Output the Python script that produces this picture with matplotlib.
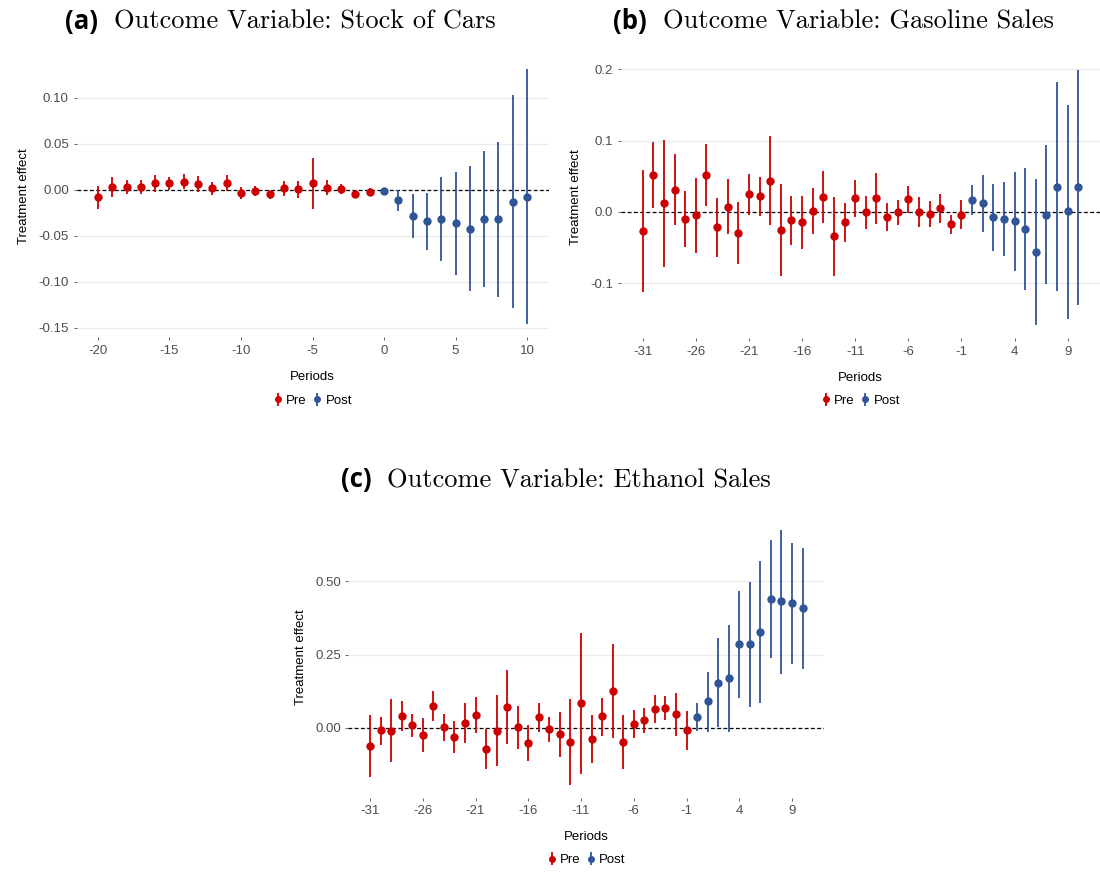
import matplotlib
matplotlib.use('Agg')
import matplotlib.pyplot as plt
import numpy as np

plt.rcParams['font.family'] = ['Liberation Sans', 'DejaVu Sans']
plt.rcParams['axes.unicode_minus'] = False

RED = '#CC0000'
BLUE = '#2F5597'

# Panel (a): stock of cars, periods -20..10
per_a = list(range(-20, 11))
est_a = [-0.008, 0.003, 0.003, 0.003, 0.007, 0.007, 0.009, 0.0065, 0.0015, 0.0076,
         -0.0033, -0.0018, -0.0047, 0.0015, 0.0004, 0.0072, 0.0025, 0.0004, -0.0047, -0.0022,
         -0.0014, -0.0112, -0.0286, -0.034, -0.0319, -0.0362, -0.0424, -0.0315, -0.0322, -0.013, -0.0076]
lo_a = [-0.021, -0.0076, -0.005, -0.004, -0.002, 0.000, 0.0004, -0.0025, -0.006, -0.001,
        -0.010, -0.007, -0.0098, -0.007, -0.0094, -0.0207, -0.0058, -0.005, -0.008, -0.006,
        -0.0058, -0.0225, -0.052, -0.0656, -0.0772, -0.092, -0.110, -0.1058, -0.1167, -0.128, -0.146]
hi_a = [0.004, 0.0138, 0.011, 0.0105, 0.0156, 0.014, 0.017, 0.0145, 0.009, 0.016,
        0.003, 0.004, -0.001, 0.010, 0.0094, 0.035, 0.011, 0.0058, -0.0015, 0.0022,
        0.0018, 0.0, -0.005, -0.003, 0.0138, 0.0192, 0.0254, 0.042, 0.052, 0.1025, 0.1315]

# Panel (b): gasoline sales, periods -31..10
per_b = list(range(-31, 11))
est_b = [-0.0271, 0.0519, 0.0126, 0.0313, -0.0103, -0.0047, 0.0519, -0.0215, 0.0075, -0.030,
         0.0252, 0.022, 0.0439, -0.0248, -0.0117, -0.014, 0.0019, 0.021, -0.0341, -0.0145,
         0.0189, -0.0005, 0.0192, -0.0075, -0.0005, 0.0178, 0.0005, -0.0023, 0.0051, -0.0168,
         -0.0037, 0.0168, 0.0121, -0.0075, -0.0103, -0.0131, -0.0234, -0.056, -0.0037, 0.0355,
         0.0009, 0.0346]
lo_b = [-0.112, 0.0056, -0.077, -0.0187, -0.0495, -0.057, 0.0084, -0.0626, -0.0313, -0.0734,
        -0.0037, -0.0056, -0.0187, -0.0897, -0.0463, -0.0514, -0.0308, -0.0154, -0.0897, -0.0416,
        -0.007, -0.024, -0.0164, -0.027, -0.019, -0.001, -0.0215, -0.0206, -0.015, -0.0304,
        -0.0238, -0.0047, -0.028, -0.0547, -0.0621, -0.0827, -0.110, -0.159, -0.101, -0.111,
        -0.150, -0.131]
hi_b = [0.0584, 0.0977, 0.1014, 0.0808, 0.029, 0.0477, 0.095, 0.0192, 0.0458, 0.0136,
        0.0537, 0.0486, 0.106, 0.0397, 0.0229, 0.0229, 0.034, 0.057, 0.0206, 0.0121,
        0.0444, 0.022, 0.0547, 0.0121, 0.0173, 0.036, 0.0206, 0.0159, 0.0248, -0.0042,
        0.0164, 0.0374, 0.0514, 0.0397, 0.0416, 0.0565, 0.0621, 0.0467, 0.0935, 0.182,
        0.150, 0.1995]

# Panel (c): ethanol sales, periods -31..10
per_c = list(range(-31, 11))
est_c = [-0.0625, -0.009, -0.010, 0.041, 0.009, -0.024, 0.074, 0.002, -0.033, 0.017,
         0.044, -0.073, -0.010, 0.070, 0.002, -0.052, 0.036, -0.006, -0.023, -0.049,
         0.084, -0.0375, 0.0386, 0.127, -0.049, 0.0136, 0.025, 0.0636, 0.066, 0.0466,
         -0.009, 0.0375, 0.090, 0.152, 0.169, 0.285, 0.285, 0.328, 0.440, 0.432,
         0.426, 0.408]
lo_c = [-0.167, -0.058, -0.117, -0.010, -0.031, -0.082, 0.0216, -0.044, -0.0875, -0.052,
        -0.017, -0.142, -0.131, -0.0545, -0.0716, -0.1125, -0.0148, -0.048, -0.099, -0.195,
        -0.158, -0.12, -0.027, -0.036, -0.14, -0.035, -0.019, 0.0148, 0.026, -0.028,
        -0.076, -0.010, -0.0136, 0.001, -0.016, 0.102, 0.0716, 0.085, 0.2375, 0.185,
        0.219, 0.202]
hi_c = [0.042, 0.0375, 0.098, 0.092, 0.048, 0.034, 0.124, 0.048, 0.0227, 0.086,
        0.1045, -0.0034, 0.110, 0.197, 0.075, 0.008, 0.086, 0.0375, 0.052, 0.098,
        0.325, 0.045, 0.101, 0.2875, 0.043, 0.060, 0.067, 0.111, 0.107, 0.119,
        0.057, 0.084, 0.190, 0.305, 0.352, 0.468, 0.497, 0.570, 0.640, 0.677,
        0.632, 0.6125]

xticks_a = [-20, -15, -10, -5, 0, 5, 10]
yticks_a = [-0.15, -0.10, -0.05, 0.00, 0.05, 0.10]
xticks_bc = [-31, -26, -21, -16, -11, -6, -1, 4, 9]
yticks_b = [-0.1, 0.0, 0.1, 0.2]
yticks_c = [0.00, 0.25, 0.50]

W, H = 1100, 873
fig = plt.figure(figsize=(11, 8.73), dpi=100)


def px_box(x0, y0, x1, y1):
    return [x0 / W, 1 - y1 / H, (x1 - x0) / W, (y1 - y0) / H]


def event_plot(ax, per, est, lo, hi, xticks, yticks, yfmt):
    per = np.array(per)
    est = np.array(est)
    lo = np.array(lo)
    hi = np.array(hi)
    ax.axhline(0, color='black', ls=(0, (3, 2)), lw=0.9, zorder=1)
    for mask, col, lab in [(per < 0, RED, 'Pre'), (per >= 0, BLUE, 'Post')]:
        ax.errorbar(per[mask], est[mask], yerr=[est[mask] - lo[mask], hi[mask] - est[mask]],
                    fmt='o', color=col, ms=5, elinewidth=1.3, capsize=0, label=lab, zorder=3)
    ax.set_xticks(xticks)
    ax.set_yticks(yticks)
    ax.set_yticklabels([yfmt.format(v) for v in yticks])
    ax.grid(axis='y', color='#EBEBEB', lw=0.9)
    ax.set_axisbelow(True)
    for s in ax.spines.values():
        s.set_visible(False)
    ax.tick_params(colors='#4D4D4D', labelsize=9.5, length=2.5, width=0.6, pad=3)
    ax.set_xlabel('Periods', fontsize=9.5, labelpad=10)
    ax.set_ylabel('Treatment effect', fontsize=9.5, labelpad=6)


def legend_below(ax, ycen):
    box = ax.get_position()
    ax.legend(loc='center', bbox_to_anchor=(box.x0 + box.width / 2, 1 - ycen / H),
              bbox_transform=fig.transFigure, ncol=2, frameon=False, fontsize=9.5,
              handlelength=0.7, handletextpad=0.3, columnspacing=0.4, borderpad=0,
              markerscale=0.8)


def title(xlab, xtext, ybase, tag, text):
    fig.text(xlab / W, 1 - ybase / H, tag, fontsize=18.5, fontweight='bold',
             family='Open Sans', va='baseline', ha='left')
    fig.text(xtext / W, 1 - ybase / H, text, fontsize=19, family='cmr10',
             va='baseline', ha='left')


ax_a = fig.add_axes(px_box(76.5, 56, 548.5, 337))
event_plot(ax_a, per_a, est_a, lo_a, hi_a, xticks_a, yticks_a, '{:.2f}')
legend_below(ax_a, 401)

ax_b = fig.add_axes(px_box(621, 57, 1100, 338))
event_plot(ax_b, per_b, est_b, lo_b, hi_b, xticks_bc, yticks_b, '{:.1f}')
legend_below(ax_b, 401)

ax_c = fig.add_axes(px_box(348.4, 516.8, 824.2, 797.5))
event_plot(ax_c, per_c, est_c, lo_c, hi_c, xticks_bc, yticks_c, '{:.2f}')
legend_below(ax_c, 860)

title(65, 114, 28.5, '(a)', 'Outcome Variable: Stock of Cars')
title(613, 663, 28.5, '(b)', 'Outcome Variable: Gasoline Sales')
title(341, 386.7, 487, '(c)', 'Outcome Variable: Ethanol Sales')

fig.savefig('out.png', dpi=100)
